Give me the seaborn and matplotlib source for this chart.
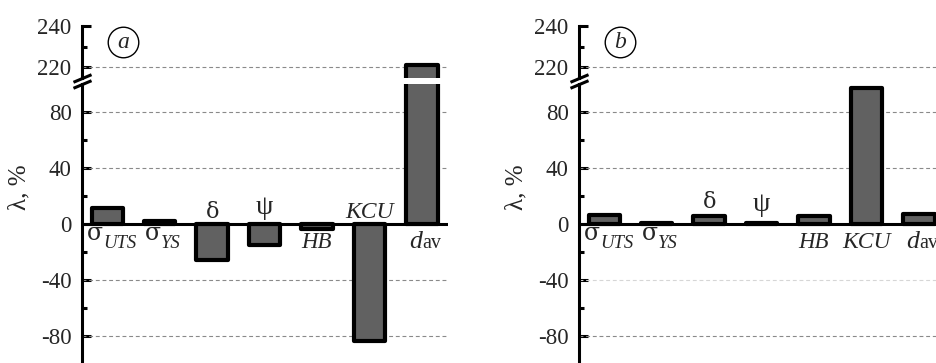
import matplotlib
matplotlib.use('Agg')
import matplotlib.pyplot as plt
import pandas as pd
import seaborn as sns

sns.set_theme(style='white')
plt.rcParams['font.family'] = ['Liberation Serif', 'DejaVu Serif']
plt.rcParams['axes.unicode_minus'] = False

# relative change of properties, %
PARAMS = ['sigma_UTS', 'sigma_YS', 'delta', 'psi', 'HB', 'KCU', 'd_av']
LAMBDA_A = [11.5, 2.0, -25.5, -15.0, -3.5, -83.5, 221.0]
LAMBDA_B = [6.5, 1.0, 5.5, 1.0, 5.5, 97.0, 7.5]

LABEL_MAIN = ['σ', 'σ', 'δ', 'ψ', 'HB', 'KCU', 'd']
LABEL_SUB = ['UTS', 'YS', '', '', '', '', 'av']
SIDE_A = ['below', 'below', 'above', 'above', 'below', 'above', 'below']
SIDE_B = ['below', 'below', 'above', 'above', 'below', 'below', 'below']

# label styling: font family, size, italic, x split offset, extra y offset (points)
MAIN_FONT = ['DejaVu Serif', 'DejaVu Serif', 'DejaVu Serif', 'Liberation Serif',
             'Liberation Serif', 'Liberation Serif', 'Liberation Serif']
MAIN_SIZE = [17, 17, 16, 20, 16.5, 17, 18.5]
MAIN_ITALIC = [False, False, False, False, True, True, True]
SUB_SIZE = [13.5, 13.5, 0, 0, 0, 0, 14.5]
SUB_ITALIC = [True, True, False, False, False, False, False]
SPLIT_DX = [-3, 1, 0, 0, 0, 0, 0]
EXTRA_DY = [0, 0, 0, 2.5, 0, 0, 0]

UPPER_MAJOR = [220, 240]
UPPER_MINOR = [230]
LOWER_MAJOR = [-80, -40, 0, 40, 80]
LOWER_MINOR = [-60, -20, 20, 60]

W, H = 937, 363
FILL = '#616161'
GRID = '#8a8a8a'


def px_box(left, top, width, height):
    return [left / W, (H - top - height) / H, width / W, height / H]


def style_axis(ax, major, minor):
    for side in ['top', 'right', 'bottom']:
        ax.spines[side].set_visible(False)
    ax.spines['left'].set_linewidth(2.2)
    ax.spines['left'].set_color('black')
    ax.set_yticks(major)
    ax.set_yticks(minor, minor=True)
    ax.tick_params(axis='y', which='major', direction='in', length=6.5, width=2.2,
                   color='black', labelsize=16.5, pad=7.5, left=True)
    ax.tick_params(axis='y', which='minor', direction='in', length=3.6, width=2.2,
                   color='black', left=True)
    ax.set_xticks([])
    ax.set_xlabel('')
    ax.set_ylabel('')
    ax.set_xlim(-0.483, 6.5)
    ax.patch.set_alpha(0)


def draw_panel(fig, left, values, sides, tag, faint=()):
    df = pd.DataFrame({'param': PARAMS, 'lam': values})
    ax_top = fig.add_axes(px_box(left, 26, 366, 51.7))
    ax_bot = fig.add_axes(px_box(left, 84, 366, 280))
    for ax in (ax_top, ax_bot):
        sns.barplot(data=df, x='param', y='lam', order=PARAMS, color=FILL, saturation=1,
                    edgecolor='black', linewidth=3.0, width=0.6, ax=ax, zorder=3)
        for p in ax.patches:
            p.set_joinstyle('round')
    ax_top.set_ylim(215, 240)
    ax_bot.set_ylim(-100, 100)
    style_axis(ax_top, UPPER_MAJOR, UPPER_MINOR)
    style_axis(ax_bot, LOWER_MAJOR, LOWER_MINOR)

    for t in UPPER_MAJOR[:-1]:
        ax_top.axhline(t, color=GRID, lw=0.8, ls=(0, (3.5, 2.5)), zorder=1)
    for t in LOWER_MAJOR:
        if t == 0:
            continue
        ax_bot.axhline(t, color='#d6d6d6' if t in faint else GRID, lw=0.8,
                       ls=(0, (3.5, 2.5)), zorder=1)
    ax_bot.axhline(0, color='black', lw=2.2, zorder=4)

    # axis break marks
    slash = [(-1, -0.42), (1, 0.42)]
    ax_top.plot([0], [0], transform=ax_top.transAxes, marker=slash, ms=13, mew=2.2,
                color='black', clip_on=False, zorder=5)
    ax_bot.plot([0], [1], transform=ax_bot.transAxes, marker=slash, ms=13, mew=2.2,
                color='black', clip_on=False, zorder=5)

    # category labels next to the bars
    for i, side in enumerate(sides):
        main, sub = LABEL_MAIN[i], LABEL_SUB[i]
        v = values[i]
        mstyle = 'italic' if MAIN_ITALIC[i] else 'normal'
        if side == 'below':
            anchor = 0
            dy = -11.5 if main == 'σ' else -17.6
        else:
            anchor = max(v, 0)
            dy = 4.5 + (1.5 if v > 0 else 0)
        dy += EXTRA_DY[i]
        if sub:
            ax_bot.annotate(main, (i, anchor), xytext=(SPLIT_DX[i], dy), textcoords='offset points',
                            ha='right', va='baseline', fontsize=MAIN_SIZE[i], style=mstyle,
                            family=MAIN_FONT[i])
            ax_bot.annotate(sub, (i, anchor), xytext=(SPLIT_DX[i], -17.6), textcoords='offset points',
                            ha='left', va='baseline', fontsize=SUB_SIZE[i],
                            style='italic' if SUB_ITALIC[i] else 'normal')
        else:
            ax_bot.annotate(main, (i, anchor), xytext=(0, dy), textcoords='offset points',
                            ha='center', va='baseline', fontsize=MAIN_SIZE[i], style=mstyle,
                            family=MAIN_FONT[i])

    ax_bot.text(-0.17, 0.63, 'λ, %', transform=ax_bot.transAxes, rotation=90,
                ha='center', va='center', fontsize=18)

    ax_top.plot([0.112], [0.69], transform=ax_top.transAxes, marker='o', ms=22,
                mfc='none', mec='black', mew=1.0, clip_on=False)
    ax_top.text(0.112, 0.69, tag, transform=ax_top.transAxes, ha='center', va='center',
                fontsize=17, style='italic')


fig = plt.figure(figsize=(W / 100, H / 100), dpi=100)
fig.patch.set_facecolor('white')
draw_panel(fig, 82, LAMBDA_A, SIDE_A, 'a')
draw_panel(fig, 579, LAMBDA_B, SIDE_B, 'b', faint=(-40,))
fig.savefig('out.png', dpi=100, facecolor='white')
